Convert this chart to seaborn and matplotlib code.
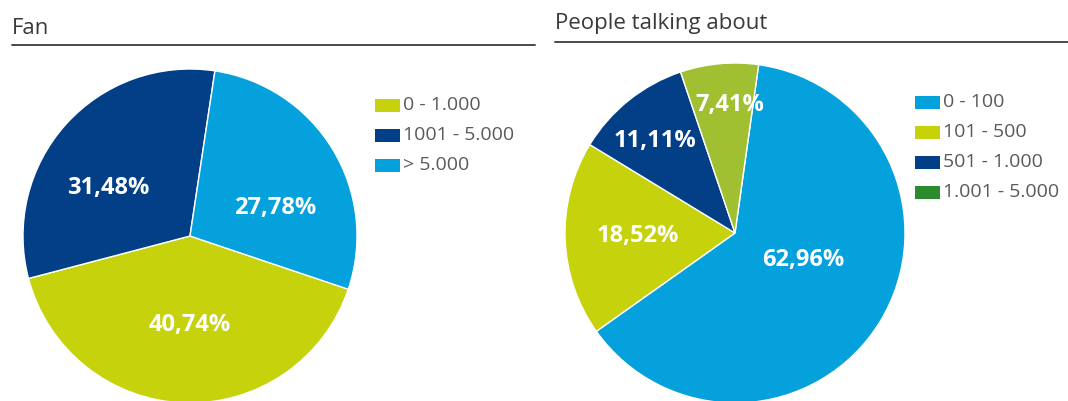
import matplotlib
matplotlib.use("Agg")
import matplotlib.pyplot as plt
from matplotlib.patches import Rectangle
from matplotlib.lines import Line2D
import seaborn as sns

# ---- data -------------------------------------------------------------
fan_labels = ["0 - 1.000", "1001 - 5.000", "> 5.000"]
fan_values = [40.74, 31.48, 27.78]

talk_labels = ["0 - 100", "101 - 500", "501 - 1.000", "1.001 - 5.000"]
talk_values = [62.96, 18.52, 11.11, 7.41]

# ---- styling ----------------------------------------------------------
sns.set_theme(style="white")
plt.rcParams["font.family"] = ["Open Sans", "DejaVu Sans"]

YELLOW = "#c6d20c"
NAVY = "#023f86"
SKY = "#04a1dc"
OLIVE = "#a0c032"
GREEN = "#2a8c2e"

fan_colors = sns.color_palette([YELLOW, NAVY, SKY])
talk_slice_colors = sns.color_palette([SKY, YELLOW, NAVY, OLIVE])
talk_legend_colors = sns.color_palette([SKY, YELLOW, NAVY, GREEN])

W, H = 1068, 401
fig = plt.figure(figsize=(W / 100, H / 100), dpi=100)
fig.patch.set_facecolor("white")


def px_axes(cx, cy, r):
    """Square axes (in pixels, y from top) holding a unit-radius pie."""
    return fig.add_axes([(cx - r) / W, (H - cy - r) / H, 2 * r / W, 2 * r / H])


def draw_pie(ax, values, colors, start, label_pos):
    wedges, _ = ax.pie(values, colors=colors, startangle=start,
                       counterclock=False, radius=1.0,
                       wedgeprops=dict(edgecolor="white", linewidth=1.0))
    for w in wedges:
        w.set_clip_on(False)
    for v, (x, y) in zip(values, label_pos):
        ax.text(x, y, f"{v:.2f}%".replace(".", ","), ha="center", va="center",
                color="white", fontsize=17, fontweight="bold")
    ax.set_xlim(-1, 1)
    ax.set_ylim(-1, 1)
    ax.set_aspect("equal")
    ax.axis("off")


def draw_legend(x0, y0, labels, colors, step=30):
    for i, (lab, c) in enumerate(zip(labels, colors)):
        yc = y0 + i * step
        fig.add_artist(Rectangle((x0 / W, (H - yc - 6.5) / H), 25 / W, 13 / H,
                                 transform=fig.transFigure, facecolor=c,
                                 edgecolor="none"))
        fig.text((x0 + 28) / W, (H - yc) / H, lab, ha="left", va="center",
                 fontsize=14, color="#5a5a5a")


def draw_header(x0, x1, y_text, y_line, title):
    fig.text(x0 / W, (H - y_text) / H, title, ha="left", va="center",
             fontsize=16, color="#3a3a3a")
    fig.add_artist(Line2D([x0 / W, x1 / W], [(H - y_line) / H] * 2,
                          transform=fig.transFigure, color="#4a4a4a",
                          linewidth=1.4))


# ---- Fan --------------------------------------------------------------
draw_header(12, 535, 29, 45, "Fan")
ax1 = px_axes(190, 236, 167)
draw_pie(ax1, fan_values, fan_colors, -18.6,
         [(0.0, -0.53), (-0.49, 0.29), (0.51, 0.17)])
draw_legend(375, 105.5, fan_labels, fan_colors)

# ---- People talking about --------------------------------------------
draw_header(555, 1068, 24, 42, "People talking about")
ax2 = px_axes(735, 233, 170)
draw_pie(ax2, talk_values, talk_slice_colors, 82,
         [(0.40, -0.16), (-0.57, -0.02), (-0.47, 0.54), (-0.03, 0.75)])
draw_legend(915, 102, talk_labels, talk_legend_colors)

fig.savefig("out.png", dpi=100, facecolor="white")
